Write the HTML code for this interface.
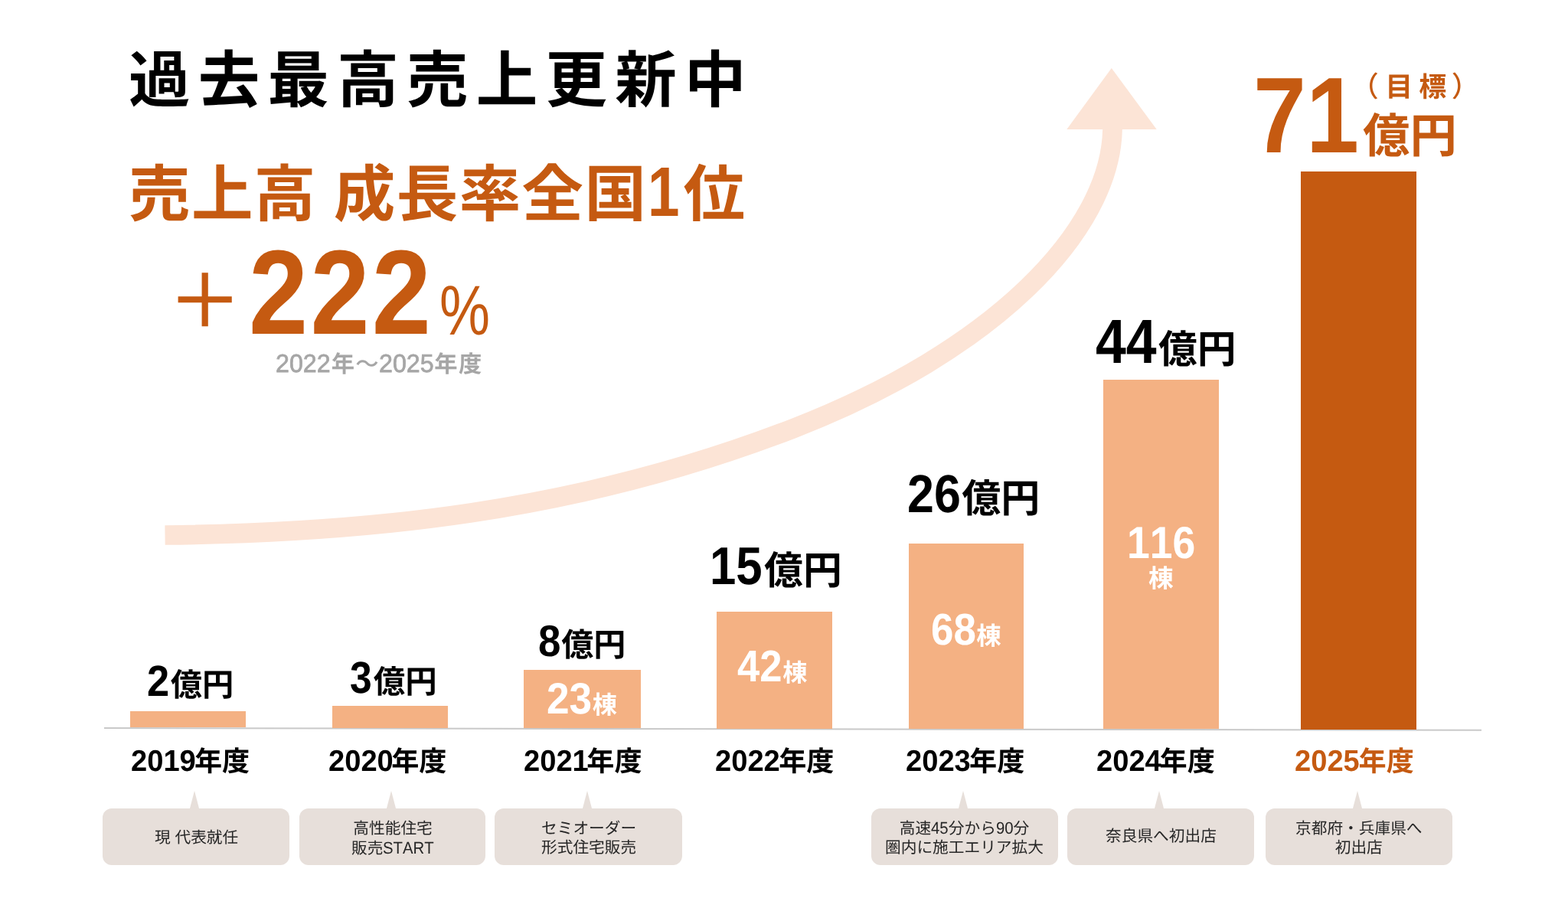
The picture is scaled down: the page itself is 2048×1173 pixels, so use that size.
<!DOCTYPE html>
<html lang="ja">
<head>
<meta charset="utf-8">
<title>過去最高売上更新中</title>
<style>
html,body{margin:0;padding:0;background:#fff}
#stage{position:relative;width:2048px;height:1173px;overflow:hidden;background:#fff;font-family:"Liberation Sans","Noto Sans CJK JP",sans-serif;font-weight:700;text-rendering:geometricPrecision;font-kerning:none}
.t{position:absolute;white-space:nowrap;font-size:0;line-height:0;will-change:transform}
.t *{line-height:0}
.kj{font-family:"Liberation Sans","Noto Sans CJK JP",sans-serif}
.ls{letter-spacing:var(--ls)}
.n{display:inline-block;transform-origin:0 50%;font-family:"Liberation Sans",sans-serif}
.sxw{display:inline-block;transform-origin:0 50%}
.gap{display:inline-block}
.sp{font-size:inherit}
.period .n{-webkit-text-stroke:.75px currentColor}
.bar{position:absolute}
.pcts{position:absolute}
.axis{position:absolute;left:135.6px;top:949.8px;width:1799.4px;height:1.7px;background:#C9C9C9;transform-origin:0 0;transform:rotate(0.086deg)}
.arrow{position:absolute;left:0;top:0}
.co{position:absolute;background:#E7DFDA;border-radius:12px;display:flex;align-items:center;justify-content:center;text-align:center;color:#262626;font-weight:400}
.co .ptr{position:absolute;top:-23px;fill:#E7DFDA}
.cot{font-size:20.7px;line-height:25px;white-space:nowrap;position:relative;will-change:transform}
.cot .n{font-weight:400;line-height:25px}
.cot .kj{font-size:20.7px}
</style>
</head>
<body>
<div id="stage">
<svg class="arrow" width="2048" height="1173" viewBox="0 0 2048 1173"><path d="M215.5 699C473.9 696.1 750.2 670.5 1035.5 559.9C1296.1 459 1450 303.3 1453 169.2V162" fill="none" stroke="#FCE4D6" stroke-width="25.7"/><path d="M1451.8 89L1510.7 169H1393.3Z" fill="#FCE4D6"/></svg>
<div class="axis"></div><svg class="pcts" style="left:570px;top:365px" width="74" height="78" viewBox="570 365 74 78" fill="#C55A11"><text x="574" y="436.5" font-family="Liberation Sans, sans-serif" font-size="92" font-weight="400" textLength="66" lengthAdjust="spacingAndGlyphs" fill="#C55A11">%</text></svg>
<div class="bar" style="left:170px;top:928.9px;width:150.7px;height:21.4px;background:#F4B183"></div>
<div class="bar" style="left:434px;top:921.5px;width:150.6px;height:29.25px;background:#F4B183"></div>
<div class="bar" style="left:684.2px;top:875.3px;width:152.6px;height:75.88px;background:#F4B183"></div>
<div class="bar" style="left:936.3px;top:798.9px;width:150.8px;height:152.7px;background:#F4B183"></div>
<div class="bar" style="left:1186.6px;top:709.8px;width:150.2px;height:242.23px;background:#F4B183"></div>
<div class="bar" style="left:1440.7px;top:495.8px;width:151px;height:456.66px;background:#F4B183"></div>
<div class="bar" style="left:1699.4px;top:224.4px;width:150.3px;height:728.5px;background:#C55A11"></div>
<div class="co" style="left:134.3px;top:1056.1px;width:243.7px;height:74.2px"><svg class="ptr" style="left:112.8px" width="14" height="24" viewBox="0 0 14 24"><path d="M7 0 L13.3 24 H0.7 Z"/></svg><div class="cot" style="top:1.5px"><span class="kj" style="font-size:20.7px;">現<span class="sp"> </span>代表就任</span></div></div>
<div class="co" style="left:390.8px;top:1056.1px;width:243.7px;height:74.2px"><svg class="ptr" style="left:113.3px" width="14" height="24" viewBox="0 0 14 24"><path d="M7 0 L13.3 24 H0.7 Z"/></svg><div class="cot" style="top:2.2px"><span class="kj" style="font-size:20.7px;">高性能住宅</span><br><span class="kj" style="font-size:20.7px;">販売</span><span class="n" style="font-size:22px;width:72.11px;font-weight:400;transform:scaleX(0.925);margin-right:-5.41px;">START</span></div></div>
<div class="co" style="left:646.4px;top:1056.1px;width:244.8px;height:74.2px"><svg class="ptr" style="left:114.1px" width="14" height="24" viewBox="0 0 14 24"><path d="M7 0 L13.3 24 H0.7 Z"/></svg><div class="cot" style="top:2px"><span class="kj" style="font-size:20.7px;">セミオーダー</span><br><span class="kj" style="font-size:20.7px;">形式住宅販売</span></div></div>
<div class="co" style="left:1138px;top:1056.1px;width:243.5px;height:74.2px"><svg class="ptr" style="left:113.1px" width="14" height="24" viewBox="0 0 14 24"><path d="M7 0 L13.3 24 H0.7 Z"/></svg><div class="cot" style="top:1px"><span class="kj" style="font-size:20.7px;">高速</span><span class="n" style="font-size:22px;width:24.47px;font-weight:400;transform:scaleX(0.925);margin-right:-1.84px;">45</span><span class="kj" style="font-size:20.7px;">分から</span><span class="n" style="font-size:22px;width:24.47px;font-weight:400;transform:scaleX(0.925);margin-right:-1.84px;">90</span><span class="kj" style="font-size:20.7px;">分</span><br><span class="kj" style="font-size:20.7px;">圏内に施工エリア拡大</span></div></div>
<div class="co" style="left:1394.3px;top:1056.1px;width:243.4px;height:74.2px"><svg class="ptr" style="left:113.1px" width="14" height="24" viewBox="0 0 14 24"><path d="M7 0 L13.3 24 H0.7 Z"/></svg><div class="cot" style="top:-0.9px"><span class="kj" style="font-size:20.7px;">奈良県へ初出店</span></div></div>
<div class="co" style="left:1652.9px;top:1056.1px;width:244.2px;height:74.2px"><svg class="ptr" style="left:113.5px" width="14" height="24" viewBox="0 0 14 24"><path d="M7 0 L13.3 24 H0.7 Z"/></svg><div class="cot" style="top:1.5px"><span class="kj" style="font-size:20.7px;">京都府・兵庫県へ</span><br><span class="kj" style="font-size:20.7px;">初出店</span></div></div>
<div class="t title" style="left:168.4px;bottom:1039.8px;color:#000;"><span class="kj ls" style="font-size:80.5px;--ls:10.24px;">過去最高売上更新中</span></div>
<div class="t sub" style="left:167.78px;bottom:890.7px;color:#C55A11;"><span class="kj ls" style="font-size:80.5px;--ls:1.42px;">売上高</span><span class="gap" style="margin-left:22.06px"></span><span class="kj ls" style="font-size:80.5px;--ls:1.42px;">成長率全国</span><span class="gap" style="margin-left:0.9px"></span><span class="n" style="font-size:91.72px;width:51.01px;transform:scaleX(0.8131);margin-right:-9.54px;">1</span><span class="gap" style="margin-left:4.66px"></span><span class="kj" style="font-size:80.5px;">位</span></div>
<div class="t plus" style="left:218.97px;bottom:745.04px;color:#C55A11;"><span class="kj" style="font-size:97.36px;font-weight:500;">＋</span></div>
<div class="t big" style="left:325.09px;bottom:737.1px;color:#C55A11;"><span class="n" style="font-size:156.82px;width:272.63px;transform:scaleX(0.8848);margin-right:-31.42px;letter-spacing:3.66px;">222</span></div>
<div class="t period" style="left:360.38px;bottom:687.2px;color:#A6A6A6;"><span class="n" style="font-size:33.23px;width:73.92px;font-weight:400;transform:scaleX(0.9692);margin-right:-2.28px;">2022</span><span class="gap" style="margin-left:1.16px"></span><span class="kj" style="font-size:30.3px;">年</span><span class="gap" style="margin-left:1.11px"></span><span class="kj" style="font-size:30.3px;font-weight:500;">～</span><span class="gap" style="margin-left:0.49px"></span><span class="n" style="font-size:33.23px;width:73.92px;font-weight:400;transform:scaleX(0.9697);margin-right:-2.24px;">2025</span><span class="gap" style="margin-left:0.63px"></span><span class="kj" style="font-size:30.3px;">年</span><span class="gap" style="margin-left:1.38px"></span><span class="kj" style="font-size:30.3px;">度</span></div>
<div class="t val" style="left:192.29px;bottom:263.9px;color:#000;"><span class="n" style="font-size:57px;width:31.7px;transform:scaleX(0.9183);margin-right:-2.59px;">2</span><span class="gap" style="margin-left:1.55px"></span><span class="kj" style="font-size:41.26px;">億円</span></div>
<div class="t val" style="left:456.51px;bottom:267.8px;color:#000;"><span class="n" style="font-size:58.35px;width:32.45px;transform:scaleX(0.886);margin-right:-3.7px;">3</span><span class="gap" style="margin-left:2.08px"></span><span class="kj" style="font-size:41.47px;">億円</span></div>
<div class="t val" style="left:703.02px;bottom:316px;color:#000;"><span class="n" style="font-size:57.63px;width:32.05px;transform:scaleX(0.9175);margin-right:-2.64px;">8</span><span class="gap" style="margin-left:0.71px"></span><span class="kj" style="font-size:42.04px;">億円</span></div>
<div class="t val" style="left:927.21px;bottom:410.4px;color:#000;"><span class="n" style="font-size:69.48px;width:77.28px;transform:scaleX(0.8891);margin-right:-8.57px;">15</span><span class="gap" style="margin-left:2.42px"></span><span class="kj" style="font-size:50.81px;">億円</span></div>
<div class="t val" style="left:1185.32px;bottom:504.4px;color:#000;"><span class="n" style="font-size:69.89px;width:77.74px;transform:scaleX(0.8985);margin-right:-7.89px;">26</span><span class="gap" style="margin-left:1.37px"></span><span class="kj" style="font-size:51.07px;">億円</span></div>
<div class="t val" style="left:1431.12px;bottom:698.7px;color:#000;"><span class="n" style="font-size:81.4px;width:90.54px;transform:scaleX(0.8799);margin-right:-10.87px;">44</span><span class="gap" style="margin-left:2.26px"></span><span class="kj" style="font-size:50.81px;">億円</span></div>
<div class="t big71" style="left:1637.37px;bottom:973.6px;color:#C55A11;"><span class="n" style="font-size:140.7px;width:156.5px;transform:scaleX(0.8817);margin-right:-18.52px;">71</span></div>
<div class="t oku" style="left:1780.22px;bottom:973.6px;color:#C55A11;"><span class="kj" style="font-size:61.4px;">億円</span></div>
<div class="t goal" style="left:1763.54px;bottom:1047.4px;color:#C55A11;"><span class="kj" style="font-size:36.8px;font-weight:500;">（</span><span class="gap" style="margin-left:8.38px"></span><span class="kj" style="font-size:36px;">目</span><span class="gap" style="margin-left:8.18px"></span><span class="kj" style="font-size:36px;">標</span><span class="gap" style="margin-left:6.44px"></span><span class="kj" style="font-size:36.8px;font-weight:500;">）</span></div>
<div class="t cnt" style="left:713.96px;bottom:240.9px;color:#fff;"><span class="n" style="font-size:57.43px;width:63.88px;transform:scaleX(0.9262);margin-right:-4.71px;">23</span><span class="gap" style="margin-left:0.63px"></span><span class="kj" style="font-size:32.26px;">棟</span></div>
<div class="t cnt" style="left:963px;bottom:283px;color:#fff;"><span class="n" style="font-size:58.14px;width:64.67px;transform:scaleX(0.9046);margin-right:-6.17px;">42</span><span class="gap" style="margin-left:0.75px"></span><span class="kj" style="font-size:32.26px;">棟</span></div>
<div class="t cnt" style="left:1215.96px;bottom:330.7px;color:#fff;"><span class="n" style="font-size:57.91px;width:64.41px;transform:scaleX(0.9139);margin-right:-5.55px;">68</span><span class="gap" style="margin-left:0.42px"></span><span class="kj" style="font-size:32.47px;">棟</span></div>
<div class="t cnt" style="left:1471.53px;bottom:444px;color:#fff;"><span class="n" style="font-size:58.87px;width:98.22px;transform:scaleX(0.9093);margin-right:-8.91px;">116</span></div>
<div class="t cnt" style="left:1500.25px;bottom:406.34px;color:#fff;"><span class="kj" style="font-size:32.68px;">棟</span></div>
<div class="t yr" style="left:170.98px;bottom:166.4px;color:#000;"><span class="n" style="font-size:39.1px;width:86.98px;transform:scaleX(0.9754);margin-right:-2.14px;">2019</span><span class="gap" style="margin-left:-1.91px"></span><span class="kj" style="font-size:36.12px;">年度</span></div>
<div class="t yr" style="left:428.68px;bottom:166.4px;color:#000;"><span class="n" style="font-size:39.1px;width:86.98px;transform:scaleX(0.9754);margin-right:-2.14px;">2020</span><span class="gap" style="margin-left:-2.61px"></span><span class="kj" style="font-size:36.12px;">年度</span></div>
<div class="t yr" style="left:683.88px;bottom:166.4px;color:#000;"><span class="n" style="font-size:39.1px;width:86.98px;transform:scaleX(0.9754);margin-right:-2.14px;">2021</span><span class="gap" style="margin-left:-2.51px"></span><span class="kj" style="font-size:36.12px;">年度</span></div>
<div class="t yr" style="left:934.48px;bottom:166.4px;color:#000;"><span class="n" style="font-size:39.1px;width:86.98px;transform:scaleX(0.9754);margin-right:-2.14px;">2022</span><span class="gap" style="margin-left:-1.71px"></span><span class="kj" style="font-size:36.12px;">年度</span></div>
<div class="t yr" style="left:1183.08px;bottom:166.4px;color:#000;"><span class="n" style="font-size:39.1px;width:86.98px;transform:scaleX(0.9754);margin-right:-2.14px;">2023</span><span class="gap" style="margin-left:-1.81px"></span><span class="kj" style="font-size:36.12px;">年度</span></div>
<div class="t yr" style="left:1431.68px;bottom:166.4px;color:#000;"><span class="n" style="font-size:39.1px;width:86.98px;transform:scaleX(0.9754);margin-right:-2.14px;">2024</span><span class="gap" style="margin-left:-2.31px"></span><span class="kj" style="font-size:36.12px;">年度</span></div>
<div class="t yr" style="left:1690.58px;bottom:166.4px;color:#C55A11;"><span class="n" style="font-size:39.1px;width:86.98px;transform:scaleX(0.9754);margin-right:-2.14px;">2025</span><span class="gap" style="margin-left:-1.31px"></span><span class="kj" style="font-size:36.12px;">年度</span></div>
</div>
</body>
</html>
